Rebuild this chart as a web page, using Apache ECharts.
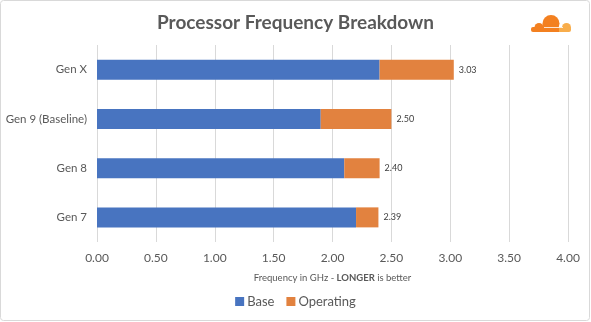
<!DOCTYPE html>
<html><head><meta charset="utf-8">
<script src="https://cdn.jsdelivr.net/npm/echarts@6/dist/echarts.min.js"></script>
<style>html,body{margin:0;padding:0;background:#fff}#c{width:591px;height:322px}</style>
</head><body><div id="c"></div>
<script>
const categories = ['Gen X', 'Gen 9 (Baseline)', 'Gen 8', 'Gen 7'];
const baseValues = [2.40, 1.90, 2.10, 2.20];
const operatingValues = [0.63, 0.60, 0.30, 0.19];
const totalLabels = ['3.03', '2.50', '2.40', '2.39'];
const xTicks = [0, 0.5, 1, 1.5, 2, 2.5, 3, 3.5, 4];

const FONT = 'Lato, "Open Sans", sans-serif';
const chart = echarts.init(document.getElementById('c'), null, {renderer: 'canvas'});
const orange = '#F38020', light = '#F8AD4B';
chart.setOption({
  animation: false,
  textStyle: {fontFamily: FONT},
  title: {
    text: 'Processor Frequency Breakdown', left: 'center', top: 8,
    textStyle: {fontFamily: FONT, fontSize: 19, fontWeight: 'bold', color: '#595959'}
  },
  graphic: [
    {type: 'rect', shape: {x: 0.5, y: 0.5, width: 589, height: 320, r: 3}, style: {fill: 'none', stroke: '#d9d9d9', lineWidth: 1}, z: -1},
    {type: 'group', children: [
      {type: 'circle', shape: {cx: 566.5, cy: 27.5, r: 4.5}, style: {fill: light}},
      {type: 'rect', shape: {x: 556, y: 27, width: 15, height: 5, r: [0, 2, 2, 0]}, style: {fill: light}},
      {type: 'circle', shape: {cx: 551, cy: 23.5, r: 8.5}, style: {fill: orange}},
      {type: 'circle', shape: {cx: 539, cy: 27.5, r: 4.5}, style: {fill: orange}},
      {type: 'rect', shape: {x: 531, y: 27, width: 28, height: 5, r: [2, 0, 0, 2]}, style: {fill: orange}},
      {type: 'line', shape: {x1: 544, y1: 27.5, x2: 563, y2: 27.5}, style: {stroke: '#fff', lineWidth: 0.8}}
    ]}
  ],
  legend: {
    bottom: 9, left: 'center', itemWidth: 9, itemHeight: 9, itemGap: 12,
    icon: 'rect',
    textStyle: {fontFamily: FONT, fontSize: 13, color: '#595959', padding: [0, 0, 0, -2]},
    data: ['Base', 'Operating']
  },
  grid: {left: 97, right: 23, top: 45, height: 197, containLabel: false},
  xAxis: {
    type: 'value', min: 0, max: 4, interval: 0.5,
    axisLine: {show: false}, axisTick: {show: false},
    splitLine: {lineStyle: {color: '#d9d9d9', width: 1}},
    axisLabel: {fontFamily: FONT, fontSize: 12, color: '#595959', margin: 10,
      formatter: v => xTicks.indexOf(v) >= 0 ? v.toFixed(2) : ''},
    name: '{a|Frequency in GHz - }{b|LONGER}{a| is better}',
    nameLocation: 'middle', nameGap: 31,
    nameTextStyle: {rich: {
      a: {fontFamily: FONT, fontSize: 9.5, color: '#595959'},
      b: {fontFamily: FONT, fontSize: 9.5, color: '#595959', fontWeight: 'bold'}
    }}
  },
  yAxis: {
    type: 'category', data: categories, inverse: true,
    axisLine: {show: false}, axisTick: {show: false},
    axisLabel: {fontFamily: FONT, fontSize: 11.5, color: '#595959', margin: 10}
  },
  series: [
    {name: 'Base', type: 'bar', stack: 't', data: baseValues, barWidth: 20,
      itemStyle: {color: '#4874C0'}},
    {name: 'Operating', type: 'bar', stack: 't', data: operatingValues, barWidth: 20,
      itemStyle: {color: '#E2823F'},
      label: {show: true, position: 'right', distance: 5, fontFamily: FONT, fontSize: 9, color: '#404040',
        formatter: p => totalLabels[p.dataIndex]}}
  ]
});
</script></body></html>
